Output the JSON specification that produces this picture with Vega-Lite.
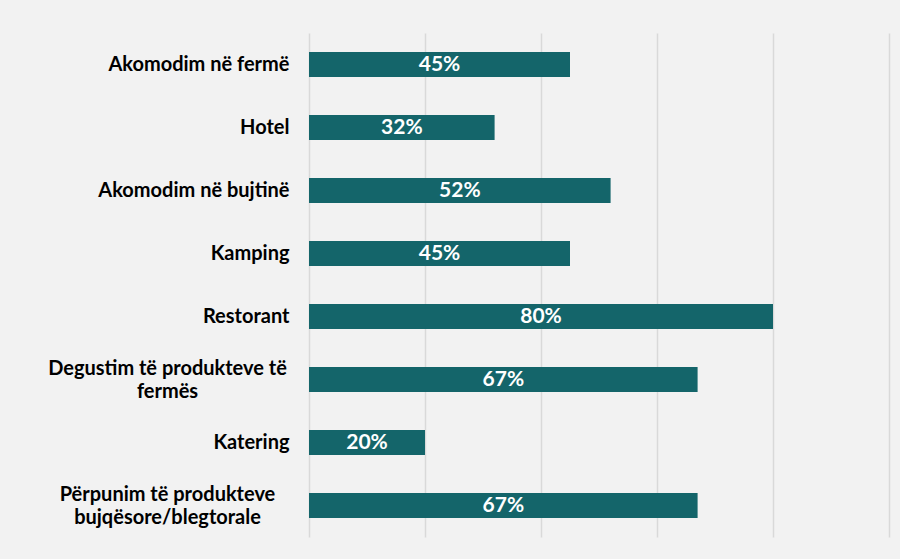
{
  "$schema": "https://vega.github.io/schema/vega-lite/v6.json",
  "width": 580,
  "height": 504,
  "autosize": "none",
  "padding": {"left": 309, "top": 33, "right": 11, "bottom": 22},
  "background": "#f2f2f2",
  "data": {
    "values": [
      {"category": "Akomodim në fermë", "share": 0.45},
      {"category": "Hotel", "share": 0.32},
      {"category": "Akomodim në bujtinë", "share": 0.52},
      {"category": "Kamping", "share": 0.45},
      {"category": "Restorant", "share": 0.80},
      {"category": "Degustim të produkteve të|fermës", "share": 0.67},
      {"category": "Katering", "share": 0.20},
      {"category": "Përpunim të produkteve|bujqësore/blegtorale", "share": 0.67}
    ]
  },
  "config": {
    "view": {"stroke": null},
    "font": "Lato"
  },
  "encoding": {
    "y": {
      "field": "category",
      "type": "nominal",
      "sort": null,
      "title": null,
      "scale": {"paddingInner": 0.6, "paddingOuter": 0.3},
      "axis": {
        "domain": false,
        "ticks": false,
        "labelExpr": "split(datum.label, '|')",
        "labelFont": "Lato",
        "labelFontWeight": "bold",
        "labelFontSize": 20,
        "labelColor": "#000000",
        "labelLineHeight": 23,
        "labelLimit": 300,
        "labelAlign": {"condition": {"test": "indexof(datum.value, '|') >= 0", "value": "center"}, "value": "right"},
        "labelPadding": {"condition": {"test": "indexof(datum.value, '|') >= 0", "value": 142}, "value": 20},
        "labelOffset": {"condition": {"test": "indexof(datum.value, '|') >= 0", "value": -11}, "value": 0}
      }
    }
  },
  "layer": [
    {
      "mark": {"type": "bar", "color": "#14656a"},
      "encoding": {
        "x": {
          "field": "share",
          "type": "quantitative",
          "title": null,
          "scale": {"domain": [0, 1]},
          "axis": {
            "domain": false,
            "ticks": false,
            "labels": false,
            "values": [0, 0.2, 0.4, 0.6, 0.8, 1],
            "gridColor": "#d9d9d9",
            "gridWidth": 1.5
          }
        }
      }
    },
    {
      "mark": {"type": "text", "color": "white", "fontWeight": "bold", "fontSize": 21, "font": "Lato", "align": "center"},
      "encoding": {
        "x": {"field": "share", "type": "quantitative", "scale": {"domain": [0, 2]}, "axis": null},
        "text": {"field": "share", "type": "quantitative", "format": ".0%"}
      }
    }
  ],
  "resolve": {"scale": {"x": "independent"}}
}
